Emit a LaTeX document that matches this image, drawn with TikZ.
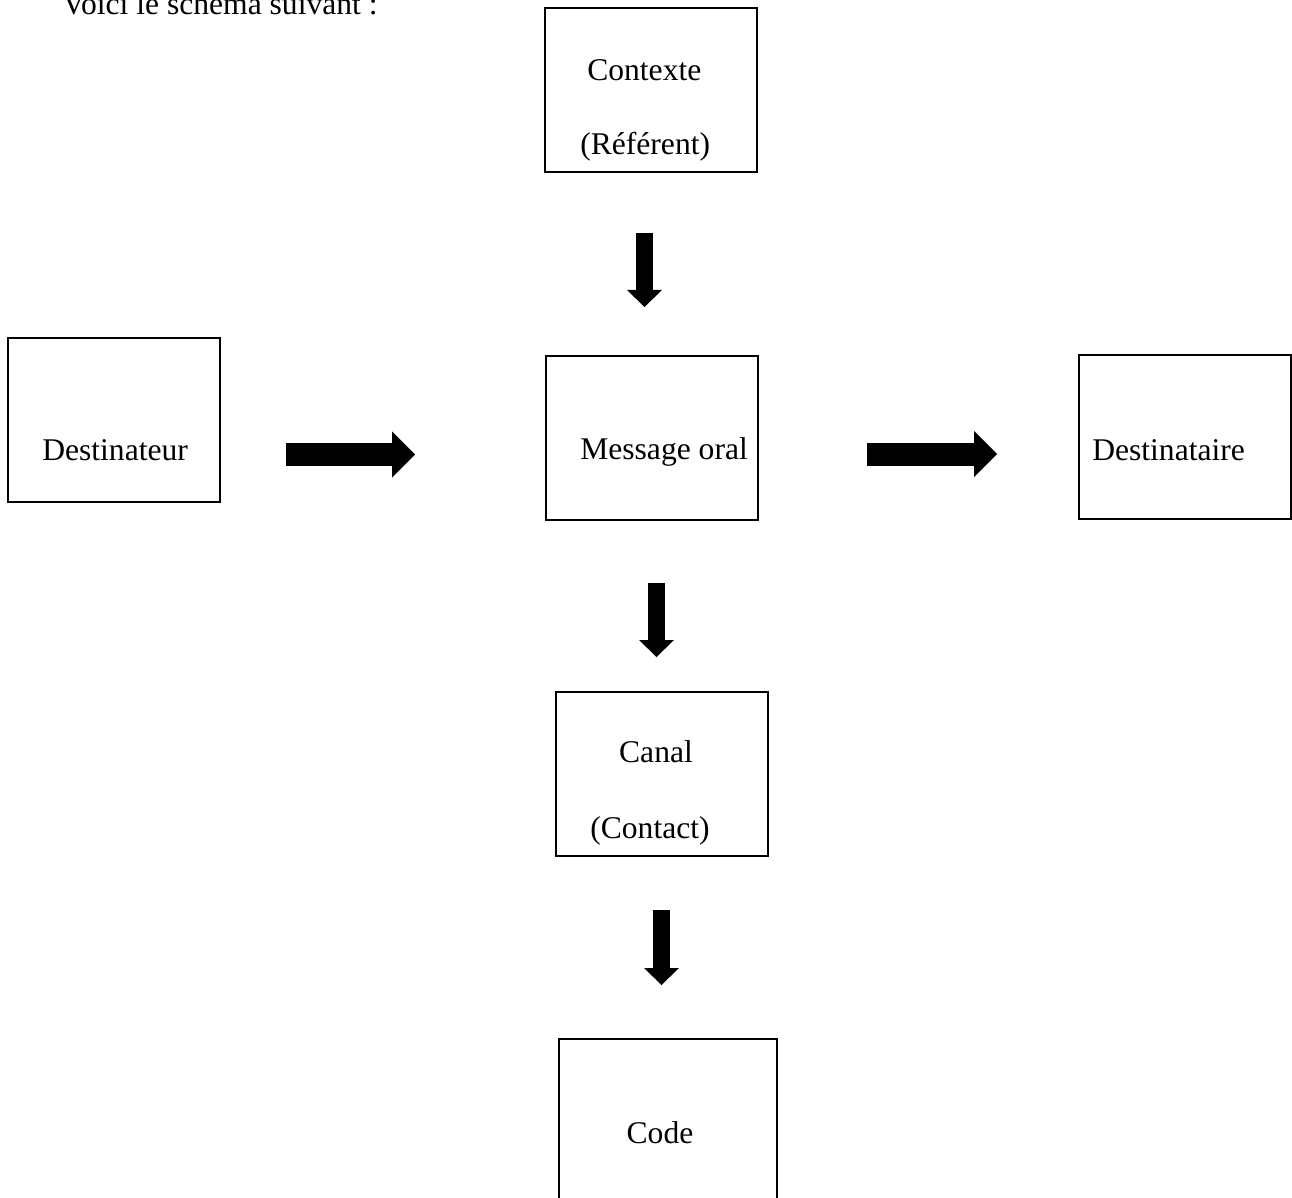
\documentclass[tikz,border=0pt]{standalone}
\usepackage{fontspec}
\setmainfont{Liberation Serif}
\usetikzlibrary{arrows.meta}

\begin{document}
\begin{tikzpicture}[x=0.75pt,y=0.75pt,yscale=-1,xscale=1,
  box/.style={draw, line width=1.5pt, rectangle, inner sep=0pt, minimum width=159pt, minimum height=123pt},
  txt/.style={anchor=base west, inner sep=0pt, font=\fontsize{23.7}{28}\selectfont},
  vblock/.style={line width=12.75pt, -{Triangle[length=12.75pt, width=26.25pt, line width=0pt]}},
  hblock/.style={line width=17.25pt, -{Triangle[length=17.25pt, width=34.5pt, line width=0pt]}}]
\useasboundingbox (0,0) rectangle (1292,1198);

% Boxes
\node [box] (ctx) at (651,90) {};
\node [box] (dst) at (113.5,419.5) {};
\node [box] (msg) at (652,438) {};
\node [box] (dsta) at (1184.5,437) {};
\node [box] (canal) at (662,773.5) {};
\node [box, minimum width=163.5pt] (code) at (668,1121) {};

% Text Node
\node [txt] (intro) at (62,15) {Voici le schéma suivant :};
% Text Node
\node [txt] (ctxa) at (587,81) {Contexte};
\node [txt] (ctxb) at (580,155) {(Référent)};
% Text Node
\node [txt] (dstt) at (42,460) {Destinateur};
% Text Node
\node [txt] (msgt) at (580,459) {Message oral};
% Text Node
\node [txt] (dstat) at (1092,460) {Destinataire};
% Text Node
\node [txt, anchor=base] (canala) at (656,762) {Canal};
\node [txt, anchor=base] (canalb) at (650,838) {(Contact)};
% Text Node
\node [txt, anchor=base] (codet) at (660,1143) {Code};

% Block arrows
\coordinate (a1s) at (644.5,233);  \coordinate (a1e) at (644.5,307);
\coordinate (a2s) at (286,454.5);  \coordinate (a2e) at (415,454.5);
\coordinate (a3s) at (867,454);    \coordinate (a3e) at (997,454);
\coordinate (a4s) at (656.5,583);  \coordinate (a4e) at (656.5,657);
\coordinate (a5s) at (661.5,910);  \coordinate (a5e) at (661.5,985);
\draw [vblock] (a1s) -- (a1e);
\draw [hblock] (a2s) -- (a2e);
\draw [hblock] (a3s) -- (a3e);
\draw [vblock] (a4s) -- (a4e);
\draw [vblock] (a5s) -- (a5e);

\end{tikzpicture}
\end{document}
